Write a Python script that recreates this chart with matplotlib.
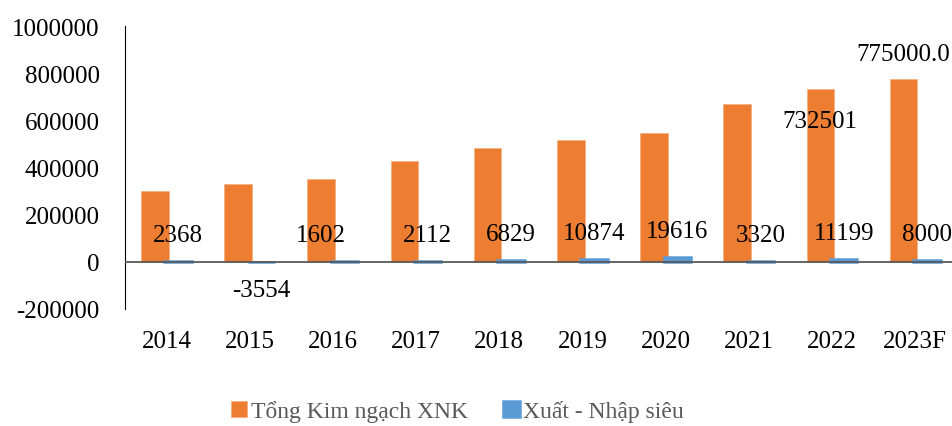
import matplotlib.pyplot as plt
import numpy as np

plt.rcParams['font.family'] = ['Liberation Serif', 'DejaVu Serif']
plt.rcParams['axes.unicode_minus'] = False

# data (triệu USD)
years = ['2014', '2015', '2016', '2017', '2018', '2019', '2020', '2021', '2022', '2023F']
tong_xnk = [298000, 327800, 351000, 428000, 480200, 517000, 545400, 668500, 732501, 775000]
xuat_nhap_sieu = [2368, -3554, 1602, 2112, 6829, 10874, 19616, 3320, 11199, 8000]

orange = '#ED7D31'
blue = '#5B9BD5'

fig = plt.figure(figsize=(9.53, 4.27), dpi=100)
ax = fig.add_axes([0.131, 0.2747, 0.873, 0.662])

x = np.arange(len(years))
w = 0.33
b1 = ax.bar(x - 0.14, tong_xnk, w, color=orange, edgecolor='#F4B183', lw=0.6,
            label='Tổng Kim ngạch XNK', zorder=2)
b2 = ax.bar(x + 0.14, xuat_nhap_sieu, w, color=blue, edgecolor=blue, lw=1.8,
            label='Xuất - Nhập siêu', zorder=3)

ax.set_xlim(-0.5, 9.5)
ax.set_ylim(-200000, 1000000)
ax.set_yticks(range(-200000, 1000001, 200000))
ax.set_yticklabels([str(t) for t in range(-200000, 1000001, 200000)])
ax.set_xticks(x)
ax.set_xticklabels(years)
ax.tick_params(axis='both', length=0, labelsize=18)
ax.tick_params(axis='x', pad=15)
ax.tick_params(axis='y', pad=18)

for s in ['top', 'right', 'bottom']:
    ax.spines[s].set_visible(False)
ax.spines['left'].set_color('black')
ax.axhline(0, color='#595959', lw=1.3, zorder=4)

# nhãn cho xuất - nhập siêu
for i, v in enumerate(xuat_nhap_sieu):
    dx, dy = 0, 18.7
    if v < 0:
        dy = -20
    if years[i] == '2016':
        dx = -17
    ax.annotate(f'{v}', (x[i] + 0.14, v), xytext=(dx, dy), textcoords='offset points',
                ha='center', va='center', fontsize=18, zorder=5)

# nhãn cho 2022 và 2023F
ax.annotate(f'{tong_xnk[8]}', (x[8] - 0.14, tong_xnk[8]), xytext=(0, -23),
            textcoords='offset points', ha='center', va='center', fontsize=18, zorder=5)
ax.annotate(f'{tong_xnk[9]:.1f}', (x[9] - 0.14, tong_xnk[9]), xytext=(0, 18),
            textcoords='offset points', ha='center', va='center', fontsize=18, zorder=5)

fig.legend(handles=[b1, b2], loc='center', bbox_to_anchor=(0.48, 0.035), ncol=2,
           frameon=False, fontsize=17, labelcolor='#595959', handlelength=0.7,
           handleheight=0.7, handletextpad=0.15, columnspacing=1.5,
           borderpad=0.1)

plt.savefig('out.png', dpi=100)
